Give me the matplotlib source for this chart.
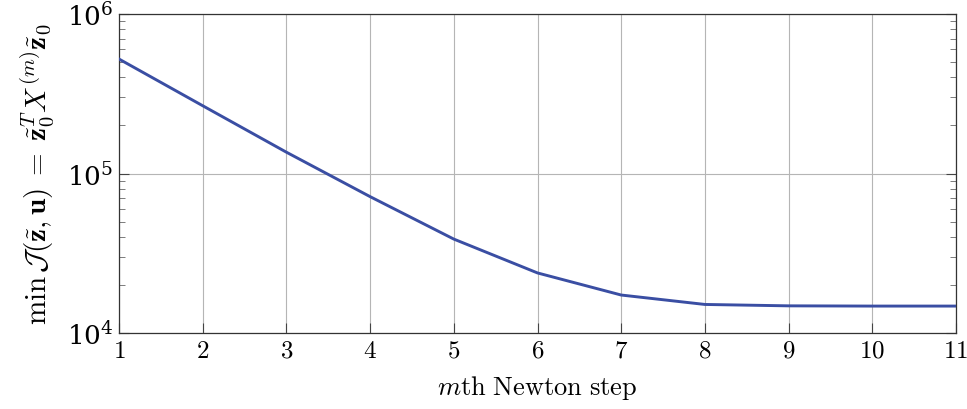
import matplotlib
matplotlib.use('Agg')
import matplotlib.pyplot as plt
from matplotlib.ticker import LogLocator, FormatStrFormatter

plt.rcParams['mathtext.fontset'] = 'cm'
plt.rcParams['font.family'] = 'serif'
plt.rcParams['font.serif'] = ['DejaVu Serif']

# values
steps = [1, 2, 3, 4, 5, 6, 7, 8, 9, 10, 11]
cost = [5.22e5, 2.66e5, 1.36e5, 7.16e4, 3.88e4, 2.38e4, 1.73e4, 1.51e4, 1.48e4, 1.475e4, 1.475e4]

fig = plt.figure(figsize=(9.67, 4.10), dpi=100)
ax = fig.add_axes([119/967, 1 - 334/410, (956 - 119)/967, (334 - 15)/410])

ax.plot(steps, cost, color='#3a4ea3', linewidth=2.1, zorder=3)

ax.set_yscale('log')
ax.set_xlim(1, 11)
ax.set_ylim(1e4, 1e6)
ax.set_xticks(steps)
ax.xaxis.set_major_formatter(FormatStrFormatter('$%d$'))
ax.yaxis.set_major_locator(LogLocator(base=10, numticks=10))
ax.yaxis.set_minor_locator(LogLocator(base=10, subs=range(2, 10), numticks=20))

ax.grid(True, which='major', color='#b5b5b5', linewidth=0.8)
ax.tick_params(which='major', direction='in', length=7, width=0.8, color='#444444',
               labelsize=18, right=True, top=False, pad=4)
ax.tick_params(which='minor', direction='in', length=4.5, width=0.6, color='#666666',
               right=True)
ax.tick_params(axis='y', labelsize=19, pad=4)
for s in ax.spines.values():
    s.set_linewidth(0.9)
    s.set_color('#333333')

ax.set_xlabel(r'$m\mathrm{th\ Newton\ step}$', fontsize=19, labelpad=8)
ax.set_ylabel(r'$\min\,\mathcal{J}(\tilde{\mathbf{z}},\mathbf{u})\;=\;\tilde{\mathbf{z}}_{\mathbf{0}}^{T}X^{(m)}\tilde{\mathbf{z}}_{\mathbf{0}}$',
              fontsize=21, labelpad=8)

fig.savefig('out.png', dpi=100)
